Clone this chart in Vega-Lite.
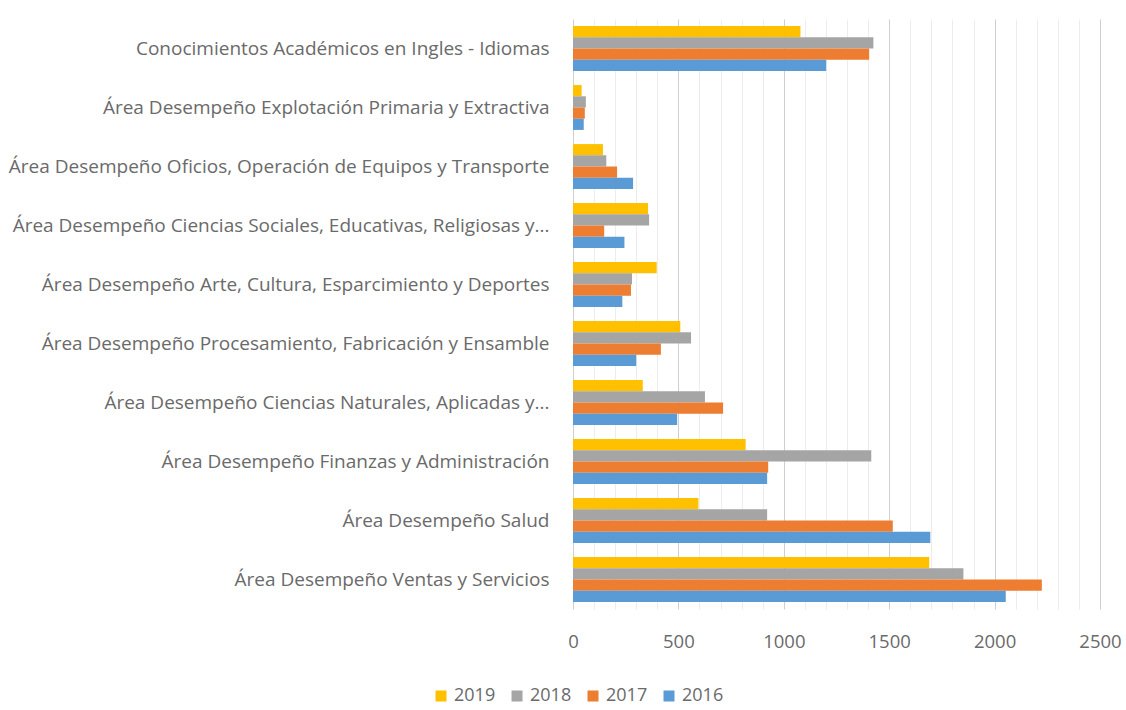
{
  "$schema": "https://vega.github.io/schema/vega-lite/v6.json",
  "width": 527,
  "height": 590,
  "autosize": {"type": "none"},
  "padding": {"left": 573, "top": 19, "right": 26, "bottom": 101},
  "background": "white",
  "data": {
    "values": [
      {"cat": "Conocimientos Académicos en Ingles - Idiomas", "year": "2019", "v": 1079},
      {"cat": "Conocimientos Académicos en Ingles - Idiomas", "year": "2018", "v": 1425},
      {"cat": "Conocimientos Académicos en Ingles - Idiomas", "year": "2017", "v": 1405},
      {"cat": "Conocimientos Académicos en Ingles - Idiomas", "year": "2016", "v": 1201},
      {"cat": "Área Desempeño Explotación Primaria y Extractiva", "year": "2019", "v": 41},
      {"cat": "Área Desempeño Explotación Primaria y Extractiva", "year": "2018", "v": 61},
      {"cat": "Área Desempeño Explotación Primaria y Extractiva", "year": "2017", "v": 56},
      {"cat": "Área Desempeño Explotación Primaria y Extractiva", "year": "2016", "v": 51},
      {"cat": "Área Desempeño Oficios, Operación de Equipos y Transporte", "year": "2019", "v": 142},
      {"cat": "Área Desempeño Oficios, Operación de Equipos y Transporte", "year": "2018", "v": 158},
      {"cat": "Área Desempeño Oficios, Operación de Equipos y Transporte", "year": "2017", "v": 209},
      {"cat": "Área Desempeño Oficios, Operación de Equipos y Transporte", "year": "2016", "v": 285},
      {"cat": "Área Desempeño Ciencias Sociales, Educativas, Religiosas y...", "year": "2019", "v": 356},
      {"cat": "Área Desempeño Ciencias Sociales, Educativas, Religiosas y...", "year": "2018", "v": 361},
      {"cat": "Área Desempeño Ciencias Sociales, Educativas, Religiosas y...", "year": "2017", "v": 148},
      {"cat": "Área Desempeño Ciencias Sociales, Educativas, Religiosas y...", "year": "2016", "v": 244},
      {"cat": "Área Desempeño Arte, Cultura, Esparcimiento y Deportes", "year": "2019", "v": 397},
      {"cat": "Área Desempeño Arte, Cultura, Esparcimiento y Deportes", "year": "2018", "v": 280},
      {"cat": "Área Desempeño Arte, Cultura, Esparcimiento y Deportes", "year": "2017", "v": 275},
      {"cat": "Área Desempeño Arte, Cultura, Esparcimiento y Deportes", "year": "2016", "v": 234},
      {"cat": "Área Desempeño Procesamiento, Fabricación y Ensamble", "year": "2019", "v": 509},
      {"cat": "Área Desempeño Procesamiento, Fabricación y Ensamble", "year": "2018", "v": 560},
      {"cat": "Área Desempeño Procesamiento, Fabricación y Ensamble", "year": "2017", "v": 417},
      {"cat": "Área Desempeño Procesamiento, Fabricación y Ensamble", "year": "2016", "v": 300},
      {"cat": "Área Desempeño Ciencias Naturales, Aplicadas y...", "year": "2019", "v": 331},
      {"cat": "Área Desempeño Ciencias Naturales, Aplicadas y...", "year": "2018", "v": 626},
      {"cat": "Área Desempeño Ciencias Naturales, Aplicadas y...", "year": "2017", "v": 712},
      {"cat": "Área Desempeño Ciencias Naturales, Aplicadas y...", "year": "2016", "v": 494},
      {"cat": "Área Desempeño Finanzas y Administración", "year": "2019", "v": 819},
      {"cat": "Área Desempeño Finanzas y Administración", "year": "2018", "v": 1415},
      {"cat": "Área Desempeño Finanzas y Administración", "year": "2017", "v": 926},
      {"cat": "Área Desempeño Finanzas y Administración", "year": "2016", "v": 921},
      {"cat": "Área Desempeño Salud", "year": "2019", "v": 595},
      {"cat": "Área Desempeño Salud", "year": "2018", "v": 921},
      {"cat": "Área Desempeño Salud", "year": "2017", "v": 1517},
      {"cat": "Área Desempeño Salud", "year": "2016", "v": 1695},
      {"cat": "Área Desempeño Ventas y Servicios", "year": "2019", "v": 1690},
      {"cat": "Área Desempeño Ventas y Servicios", "year": "2018", "v": 1852},
      {"cat": "Área Desempeño Ventas y Servicios", "year": "2017", "v": 2224},
      {"cat": "Área Desempeño Ventas y Servicios", "year": "2016", "v": 2053}
    ]
  },
  "mark": {"type": "bar"},
  "encoding": {
    "y": {
      "field": "cat",
      "type": "nominal",
      "sort": null,
      "scale": {"paddingInner": 0.24, "paddingOuter": 0.12},
      "axis": {
        "title": null,
        "ticks": false,
        "domain": false,
        "labelPadding": 24,
        "labelLimit": 0,
        "labelFont": "Open Sans",
        "labelFontSize": 19,
        "labelColor": "#6a6a6a"
      }
    },
    "yOffset": {
      "field": "year",
      "type": "nominal",
      "sort": ["2019", "2018", "2017", "2016"],
      "scale": {"paddingInner": 0, "paddingOuter": 0}
    },
    "x": {
      "field": "v",
      "type": "quantitative",
      "scale": {"domain": [0, 2500], "nice": false},
      "axis": {
        "title": null,
        "values": [0,100,200,300,400,500,600,700,800,900,1000,1100,1200,1300,1400,1500,1600,1700,1800,1900,2000,2100,2200,2300,2400,2500],
        "labelExpr": "datum.value % 500 === 0 ? datum.label : ''",
        "format": "d",
        "ticks": false,
        "domain": false,
        "grid": true,
        "gridColor": {"condition": {"test": "datum.value % 500 === 0", "value": "#cfcfcf"}, "value": "#ededed"},
        "gridWidth": 1,
        "labelPadding": 23,
        "labelFlush": false,
        "labelFont": "Open Sans",
        "labelFontSize": 18.5,
        "labelColor": "#6a6a6a",
        "labelOverlap": false
      }
    },
    "color": {
      "field": "year",
      "type": "nominal",
      "sort": ["2019", "2018", "2017", "2016"],
      "scale": {"domain": ["2019", "2018", "2017", "2016"], "range": ["#FFC000", "#A5A5A5", "#ED7D31", "#5B9BD5"]},
      "legend": {
        "title": null,
        "orient": "none",
        "direction": "horizontal",
        "legendX": -141,
        "legendY": 668,
        "symbolType": "square",
        "symbolSize": 121,
        "symbolStrokeWidth": 0,
        "symbolOffset": 0,
        "labelOffset": 4,
        "columnPadding": 12,
        "labelFont": "Open Sans",
        "labelFontSize": 18,
        "labelColor": "#6a6a6a"
      }
    }
  },
  "config": {"view": {"stroke": null}}
}
